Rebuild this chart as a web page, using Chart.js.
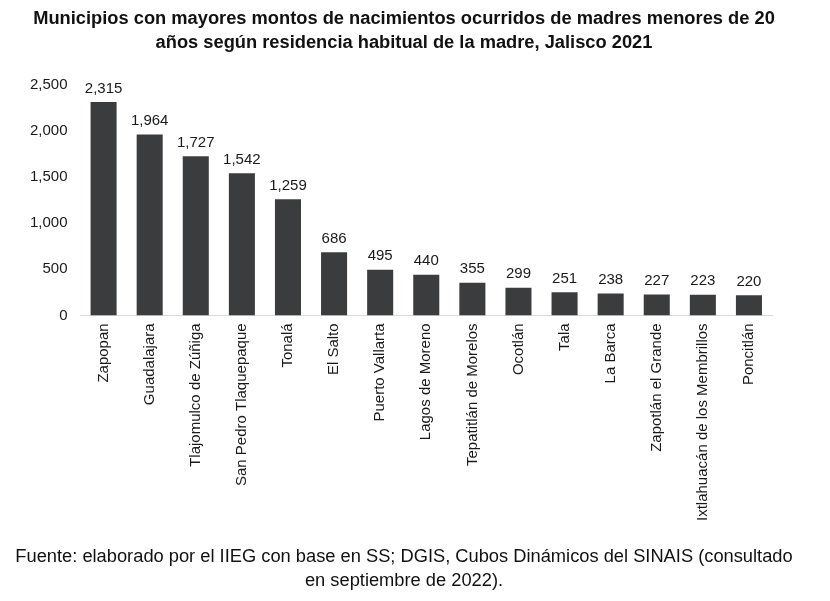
<!DOCTYPE html>
<html>
<head>
<meta charset="utf-8">
<script src="https://cdn.jsdelivr.net/npm/chart.js@4/dist/chart.umd.min.js"></script>
<style>
html,body{margin:0;padding:0;background:#fff;}
#wrap{width:830px;height:601px;position:relative;}
</style>
</head>
<body>
<div id="wrap"><canvas id="c"></canvas></div>
<script>
const categories = ["Zapopan","Guadalajara","Tlajomulco de Zúñiga","San Pedro Tlaquepaque","Tonalá","El Salto","Puerto Vallarta","Lagos de Moreno","Tepatitlán de Morelos","Ocotlán","Tala","La Barca","Zapotlán el Grande","Ixtlahuacán de los Membrillos","Poncitlán"];
const values = [2315,1964,1727,1542,1259,686,495,440,355,299,251,238,227,223,220];
const titleLines = ["Municipios con mayores montos de nacimientos ocurridos de madres menores de 20","años según residencia habitual de la madre, Jalisco 2021"];
const sourceLines = ["Fuente: elaborado por el IIEG con base en SS; DGIS, Cubos Dinámicos del SINAIS (consultado","en septiembre de 2022)."];

const FONT = "'Liberation Sans', Arial, sans-serif";

const valueLabels = {
  id: 'valueLabels',
  afterDatasetsDraw(chart) {
    const ctx = chart.ctx;
    const meta = chart.getDatasetMeta(0);
    ctx.save();
    ctx.font = "15px " + FONT;
    ctx.fillStyle = "#1a1a1a";
    ctx.textAlign = "center";
    ctx.textBaseline = "bottom";
    meta.data.forEach((bar, i) => {
      ctx.fillText(values[i].toLocaleString('en-US'), bar.x, bar.y - 6);
    });
    ctx.restore();
  }
};

const headerFooter = {
  id: 'headerFooter',
  afterDraw(chart) {
    const ctx = chart.ctx;
    const cx = 404;
    ctx.save();
    ctx.fillStyle = "#111";
    ctx.textAlign = "center";
    ctx.textBaseline = "middle";
    ctx.font = "bold 18.3px " + FONT;
    titleLines.forEach((t, i) => ctx.fillText(t, cx, 19 + i * 24.3));
    ctx.font = "18.3px " + FONT;
    sourceLines.forEach((t, i) => ctx.fillText(t, cx, 557 + i * 23.5));
    ctx.restore();
  }
};

new Chart(document.getElementById('c'), {
  type: 'bar',
  data: {
    labels: categories,
    datasets: [{
      data: values,
      backgroundColor: '#3b3c3e',
      barPercentage: 0.565,
      categoryPercentage: 1.0
    }]
  },
  plugins: [valueLabels, headerFooter],
  options: {
    responsive: true,
    maintainAspectRatio: false,
    animation: false,
    layout: { padding: { left: 17, right: 58, top: 85, bottom: 72 } },
    plugins: {
      legend: { display: false },
      tooltip: { enabled: false },
      title: { display: false },
      subtitle: { display: false }
    },
    scales: {
      x: {
        grid: { display: false, drawTicks: false },
        border: { display: true, color: '#d9d9d9', width: 1 },
        ticks: {
          minRotation: 90, maxRotation: 90,
          autoSkip: false,
          color: '#1a1a1a',
          padding: 8,
          font: { family: FONT, size: 15 }
        }
      },
      y: {
        min: 0, max: 2500,
        grid: { display: false, drawTicks: false },
        border: { display: false },
        ticks: {
          stepSize: 500,
          color: '#1a1a1a',
          padding: 13,
          font: { family: FONT, size: 15 },
          callback: v => v.toLocaleString('en-US')
        }
      }
    }
  }
});
</script>
</body>
</html>
